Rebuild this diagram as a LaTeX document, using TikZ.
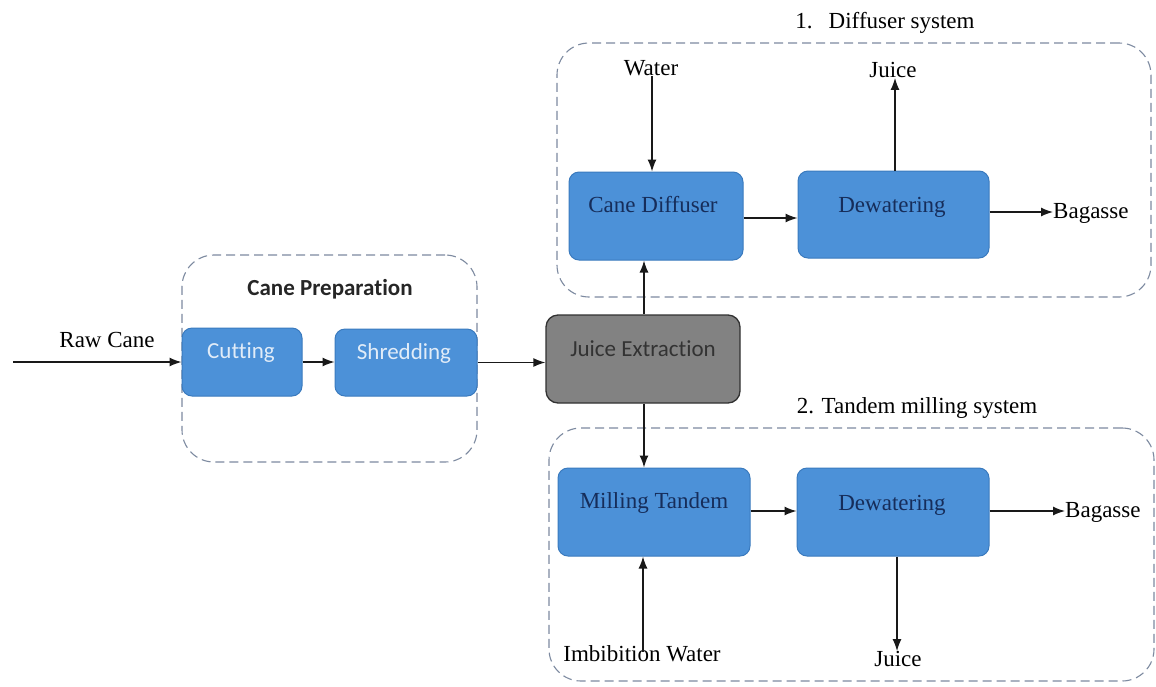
\documentclass[tikz,border=0pt]{standalone}
\usepackage{fontspec}
\setmainfont{Liberation Serif}
\newfontfamily\calfont[Ligatures=NoCommon]{Carlito}
\usetikzlibrary{arrows.meta}
\definecolor{boxblue}{RGB}{76,145,216}
\definecolor{boxedge}{RGB}{58,122,190}
\definecolor{navytext}{RGB}{22,45,90}
\definecolor{lighttext}{RGB}{225,236,248}
\definecolor{greyfill}{RGB}{130,130,130}
\definecolor{greyedge}{RGB}{50,50,50}
\definecolor{dashcol}{RGB}{125,138,160}
\tikzset{
  bluebox/.style={draw=boxedge, line width=1pt, fill=boxblue, rounded corners=10pt, inner sep=0pt},
  greybox/.style={draw=greyedge, line width=1.3pt, fill=greyfill, rounded corners=12pt, inner sep=0pt},
  groupbox/.style={draw=dashcol, line width=1.1pt, dash pattern=on 9pt off 5pt, rounded corners=32pt, inner sep=0pt},
  serif/.style={font=\fontsize{23}{27}\selectfont, inner sep=0pt},
  navylbl/.style={serif, text=navytext},
  callbl/.style={font=\calfont\fontsize{23}{27}\selectfont, inner sep=0pt},
  flow/.style={draw=black!90, line width=1.3pt, -{Latex[length=12pt,width=9pt]}}
}
\begin{document}
\begin{tikzpicture}[x=1pt,y=-1pt]
\path[use as bounding box, fill=white] (0,0) rectangle (1156,686);

% group containers
\node[groupbox, minimum width=295pt, minimum height=207pt] (cp) at (329.5,358.5) {};
\node[groupbox, minimum width=594pt, minimum height=254pt] (diff) at (854,170) {};
\node[groupbox, minimum width=605pt, minimum height=253pt] (tand) at (851.5,554.5) {};

\node[callbl, font=\calfont\bfseries\fontsize{23}{27}\selectfont, text=black!85] (cptitle) at (330,289) {Cane Preparation};
\node[serif] (difftitle) at (885,23) {1.\hspace{0.7em}Diffuser system};
\node[serif] (tandtitle) at (917,408) {2. Tandem milling system};

% process boxes
\node[bluebox, minimum width=120pt, minimum height=68pt] (cut) at (242,362) {};
\node[bluebox, minimum width=142pt, minimum height=67pt] (shred) at (406,362.5) {};
\node[greybox, minimum width=194pt, minimum height=88pt] (je) at (643,359) {};
\node[bluebox, minimum width=174pt, minimum height=88pt] (cd) at (656,216) {};
\node[bluebox, minimum width=191pt, minimum height=87pt] (dew1) at (893.5,214.5) {};
\node[bluebox, minimum width=192pt, minimum height=88pt] (mill) at (654,512) {};
\node[bluebox, minimum width=192pt, minimum height=88pt] (dew2) at (893,512) {};

% box labels
\node[callbl, text=lighttext] (cutlbl) at (241,353) {Cutting};
\node[callbl, text=lighttext] (shredlbl) at (404,353) {Shredding};
\node[callbl, text=black!80] (jelbl) at (643,349) {Juice Extraction};
\node[navylbl] (cdlbl) at (653,205) {Cane Diffuser};
\node[navylbl] (dew1lbl) at (892,207) {Dewatering};
\node[navylbl] (milllbl) at (654,503) {Milling Tandem};
\node[navylbl] (dew2lbl) at (892,505) {Dewatering};

% free labels
\node[serif] (raw) at (107,340) {Raw Cane};
\node[serif] (water) at (651,68) {Water};
\node[serif] (juice1) at (893,70) {Juice};
\node[serif, anchor=west] (bag1) at (1053,213) {Bagasse};
\node[serif, anchor=west] (bag2) at (1065,512) {Bagasse};
\node[serif] (juice2) at (898,659) {Juice};
\node[serif] (imb) at (642,654) {Imbibition Water};

\coordinate (rawstart) at (13,362);

% connectors
\draw[flow] (rawstart) -- (cut.west |- rawstart);
\draw[flow] (cut.east) -- (shred.west |- cut.east);
\draw[flow] (shred.east) -- (je.west |- shred.east);
\draw[flow] (je.north -| 644,0) -- (cd.south -| 644,0);
\draw[flow] (je.south -| 644,0) -- (mill.north -| 644,0);
\draw[flow] (water.south -| 652,0) -- (cd.north -| 652,0);
\draw[flow] (cd.east |- 0,218) -- (dew1.west |- 0,218);
\draw[flow] (dew1.north -| 895,0) -- (juice1.south -| 895,0);
\draw[flow] (dew1.east |- 0,212) -- (bag1.west |- 0,212);
\draw[flow] (mill.east |- 0,511) -- (dew2.west |- 0,511);
\draw[flow] (dew2.east |- 0,511) -- (bag2.west |- 0,511);
\draw[flow] (dew2.south -| 897,0) -- (juice2.north -| 897,0);
\draw[flow] (imb.north -| 643,0) ++(0,6) -- (mill.south -| 643,0);
\end{tikzpicture}
\end{document}
